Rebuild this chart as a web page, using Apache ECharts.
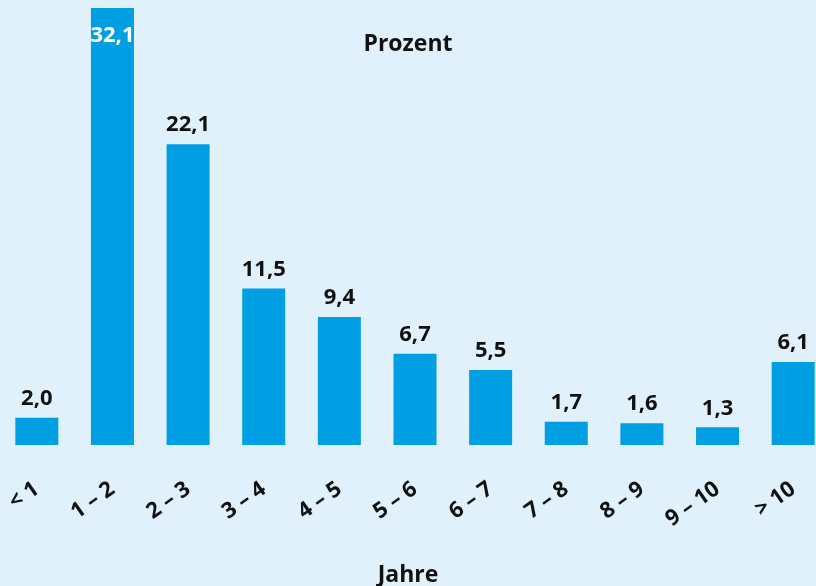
<!DOCTYPE html>
<html>
<head>
<meta charset="utf-8">
<script src="https://cdn.jsdelivr.net/npm/echarts@6/dist/echarts.min.js"></script>
<style>
  html, body { margin: 0; padding: 0; background: #e0f1fc; }
  #chart { width: 816px; height: 586px; }
</style>
</head>
<body>
<div id="chart"></div>
<script>
// Kategorien (Jahre) und Werte (Prozent)
const categories = ['< 1', '1 – 2', '2 – 3', '3 – 4', '4 – 5', '5 – 6', '6 – 7', '7 – 8', '8 – 9', '9 – 10', '> 10']
const values = [2.0, 32.1, 22.1, 11.5, 9.4, 6.7, 5.5, 1.7, 1.6, 1.3, 6.1]
const yMax = 32.1

const font = '"Open Sans", "Noto Sans", sans-serif'
const barColor = '#009fe3'

const mChart = echarts.init(document.getElementById('chart'))

const options = {
    backgroundColor: '#e0f1fc',
    animation: false,
    title: [
        {
            text: 'Prozent',
            left: 'center',
            top: 28,
            textStyle: { fontFamily: font, fontSize: 23, fontWeight: 'bold', color: '#111' }
        },
        {
            text: 'Jahre',
            left: 'center',
            top: 559,
            textStyle: { fontFamily: font, fontSize: 23, fontWeight: 'bold', color: '#111' }
        }
    ],
    grid: {
        top: 8,
        bottom: 141,
        left: -1,
        width: 832,
        outerBoundsMode: 'none'
    },
    xAxis: {
        type: 'category',
        data: categories,
        axisLine: { show: false },
        axisTick: { show: false },
        axisLabel: {
            rotate: 35,
            margin: 42,
            interval: 0,
            fontFamily: font,
            fontSize: 22,
            fontWeight: 'bold',
            color: '#111'
        }
    },
    yAxis: {
        type: 'value',
        show: false,
        min: 0,
        max: yMax
    },
    series: [
        {
            type: 'bar',
            barWidth: 43,
            itemStyle: { color: barColor },
            data: values.map((v, i) => {
                const item = { value: v }
                // höchster Balken: Beschriftung weiß im Balken
                if (v === yMax) {
                    item.label = { position: 'insideTop', distance: 17, color: '#fff' }
                }
                return item
            }),
            label: {
                show: true,
                position: 'top',
                distance: 8,
                fontFamily: font,
                fontSize: 22,
                fontWeight: 'bold',
                color: '#111',
                formatter: p => p.value.toFixed(1).replace('.', ',')
            }
        }
    ]
}

mChart.setOption(options)
</script>
</body>
</html>
